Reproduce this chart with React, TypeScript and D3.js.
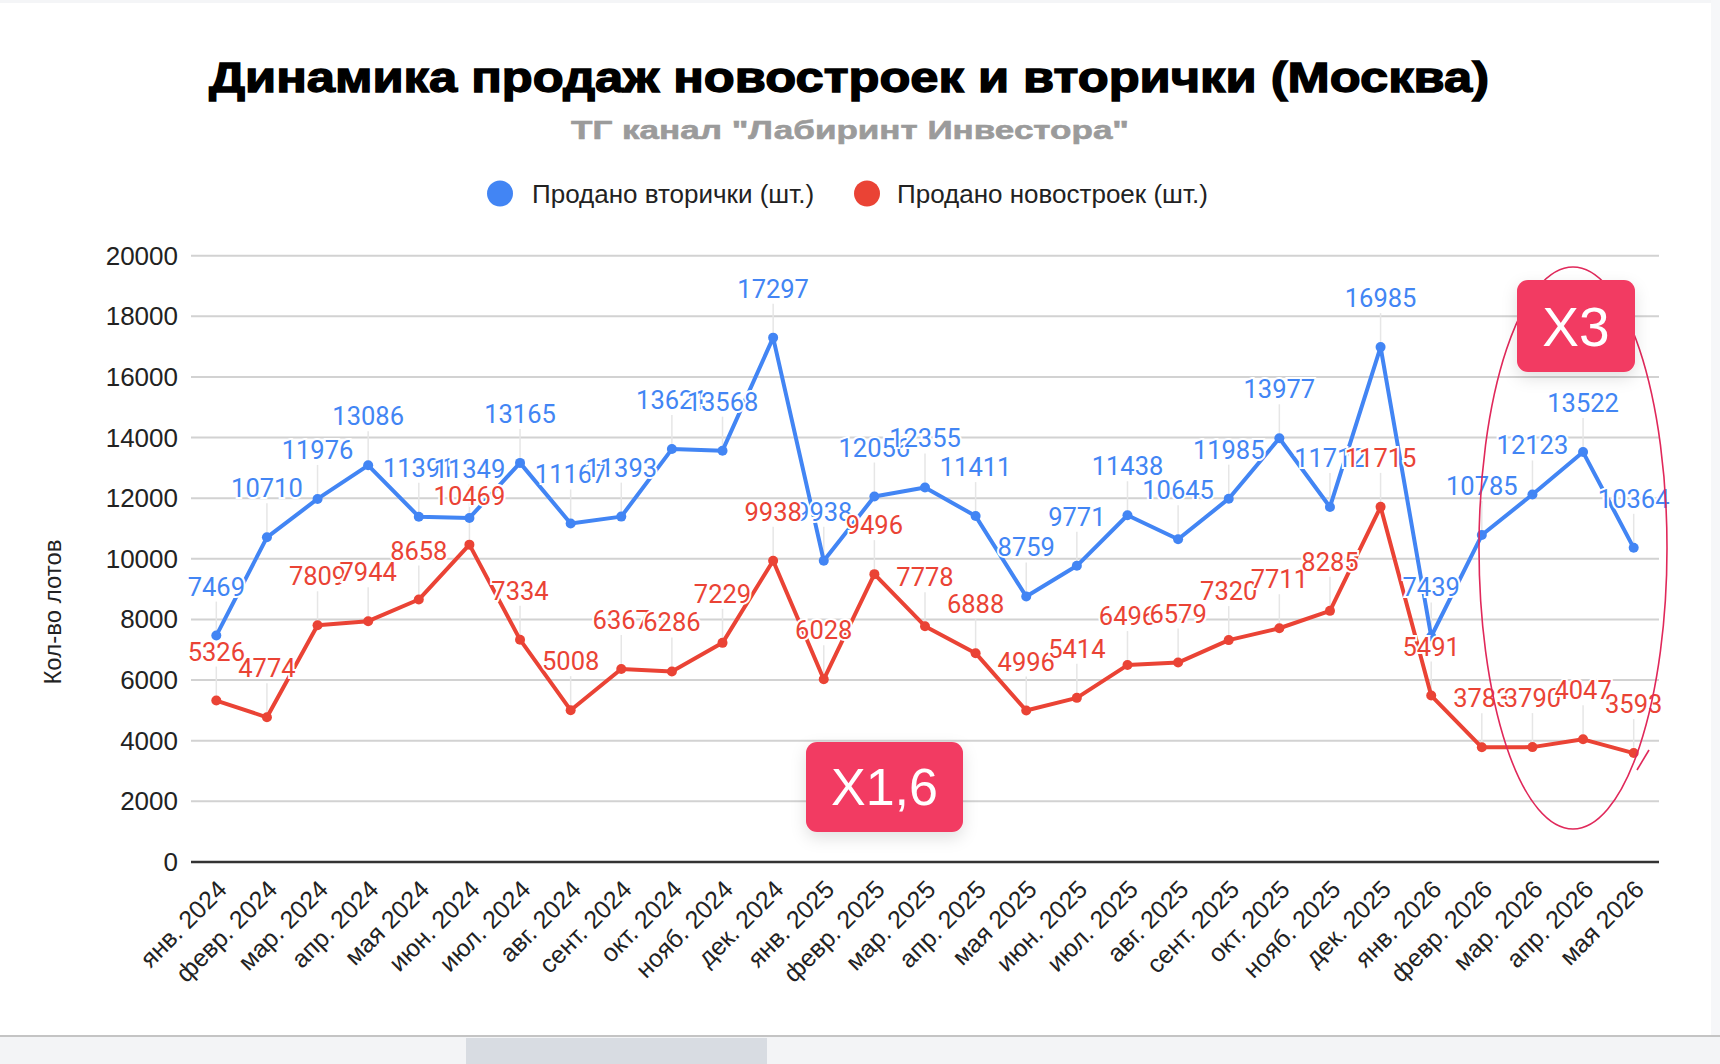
import * as d3 from "d3";

// месяцы (подписи оси X)
const months = [
  "янв. 2024", "февр. 2024", "мар. 2024", "апр. 2024", "мая 2024", "июн. 2024",
  "июл. 2024", "авг. 2024", "сент. 2024", "окт. 2024", "нояб. 2024", "дек. 2024",
  "янв. 2025", "февр. 2025", "мар. 2025", "апр. 2025", "мая 2025", "июн. 2025",
  "июл. 2025", "авг. 2025", "сент. 2025", "окт. 2025", "нояб. 2025", "дек. 2025",
  "янв. 2026", "февр. 2026", "мар. 2026", "апр. 2026", "мая 2026",
];

// продано вторички (шт.)
const secondary = [
  7469, 10710, 11976, 13086, 11391, 11349, 13165, 11167, 11393, 13621, 13568, 17297,
  9938, 12056, 12355, 11411, 8759, 9771, 11438, 10645, 11985, 13977, 11712, 16985,
  7439, 10785, 12123, 13522, 10364,
];

// продано новостроек (шт.)
const newBuild = [
  5326, 4774, 7809, 7944, 8658, 10469, 7334, 5008, 6367, 6286, 7229, 9938,
  6028, 9496, 7778, 6888, 4996, 5414, 6496, 6579, 7320, 7711, 8285, 11715,
  5491, 3783, 3790, 4047, 3593,
];

const yTicks = [0, 2000, 4000, 6000, 8000, 10000, 12000, 14000, 16000, 18000, 20000];

const BLUE = "#4285F4";
const RED = "#EA4335";
const BADGE = "#F23B62";
const SANS = "'Liberation Sans', Arial, sans-serif";
const ROBOTO = "Roboto, 'Liberation Sans', sans-serif";

const W = 1720;
const H = 1064;

export default function App() {
  const x = d3.scaleBand<string>().domain(months).range([191, 1659]);
  const xc = (i: number) => (x(months[i]) as number) + x.bandwidth() / 2;
  const y = d3.scaleLinear().domain([0, 20000]).range([862, 255.7]);

  const line = d3
    .line<number>()
    .x((_, i) => xc(i))
    .y((d) => y(d));

  const series = [
    { values: secondary, color: BLUE },
    { values: newBuild, color: RED },
  ];

  return (
    <svg
      width={W}
      height={H}
      style={{ position: "absolute", left: 0, top: 0, background: "#fff" }}
    >
      <defs>
        <filter id="shadow" x="-30%" y="-30%" width="160%" height="180%">
          <feDropShadow dx="0" dy="6" stdDeviation="8" floodColor="#000" floodOpacity="0.12" />
        </filter>
      </defs>

      {/* рамка страницы */}
      <rect x={0} y={0} width={W} height={3} fill="#f4f5f7" />
      <rect x={1711} y={0} width={W - 1711} height={H} fill="#f6f7f9" />
      <rect x={0} y={1036} width={W} height={H - 1036} fill="#f3f4f6" />
      <line x1={0} x2={W} y1={1036} y2={1036} stroke="#c4c4c4" strokeWidth={2} />
      <rect x={466} y={1038} width={301} height={H - 1038} fill="#d8dce2" />

      {/* заголовки */}
      <text
        x={849}
        y={92}
        textAnchor="middle"
        fontFamily={SANS}
        fontWeight="bold"
        fontSize={42}
        stroke="#000"
        strokeWidth={1.3}
        textLength={1280}
        lengthAdjust="spacingAndGlyphs"
      >
        Динамика продаж новостроек и вторички (Москва)
      </text>
      <text
        x={850}
        y={139}
        textAnchor="middle"
        fontFamily={SANS}
        fontWeight="bold"
        fontSize={26}
        fill="#9b9b9b"
        stroke="#9b9b9b"
        strokeWidth={0.6}
        textLength={558}
        lengthAdjust="spacingAndGlyphs"
      >
        ТГ канал "Лабиринт Инвестора"
      </text>

      {/* легенда */}
      <circle cx={500} cy={193.5} r={13} fill={BLUE} />
      <text x={532} y={203} fontFamily={SANS} fontSize={26} fill="#222">
        Продано вторички (шт.)
      </text>
      <circle cx={867} cy={193.5} r={13} fill={RED} />
      <text x={897} y={203} fontFamily={SANS} fontSize={26} fill="#222">
        Продано новостроек (шт.)
      </text>

      {/* сетка и ось Y */}
      {yTicks.map((t) => (
        <g key={t}>
          {t > 0 && (
            <line x1={191} x2={1659} y1={y(t)} y2={y(t)} stroke="#d2d2d2" strokeWidth={2} />
          )}
          <text
            x={178}
            y={y(t) + 9}
            textAnchor="end"
            fontFamily={SANS}
            fontSize={26}
            fill="#222"
          >
            {t}
          </text>
        </g>
      ))}
      <text
        transform={`translate(61,612) rotate(-90)`}
        textAnchor="middle"
        fontFamily={SANS}
        fontSize={24}
        fill="#222"
      >
        Кол-во лотов
      </text>

      {/* выноски подписей */}
      {series.map((s, si) =>
        s.values.map((v, i) => (
          <line
            key={`l${si}-${i}`}
            x1={xc(i)}
            x2={xc(i)}
            y1={y(v) - 34}
            y2={y(v)}
            stroke="#e6e6e6"
            strokeWidth={1.5}
          />
        ))
      )}

      <line x1={191} x2={1659} y1={y(0)} y2={y(0)} stroke="#333" strokeWidth={2.5} />

      {/* линии */}
      {series.map((s, si) => (
        <g key={`s${si}`}>
          <path
            d={line(s.values) ?? ""}
            fill="none"
            stroke={s.color}
            strokeWidth={4}
            strokeLinejoin="round"
          />
          {s.values.map((v, i) => (
            <circle key={i} cx={xc(i)} cy={y(v)} r={5} fill={s.color} />
          ))}
        </g>
      ))}

      {/* подписи значений */}
      {series.map((s, si) =>
        s.values.map((v, i) => (
          <text
            key={`t${si}-${i}`}
            x={xc(i)}
            y={y(v) - 40}
            textAnchor="middle"
            fontFamily={ROBOTO}
            fontSize={25.5}
            fill={s.color}
            stroke="#fff"
            strokeWidth={4}
            paintOrder="stroke"
          >
            {v}
          </text>
        ))
      )}

      {/* ось X */}
      {months.map((m, i) => (
        <text
          key={m}
          transform={`translate(${xc(i) + 12},${891}) rotate(-45)`}
          textAnchor="end"
          fontFamily={SANS}
          fontSize={25}
          fill="#222"
        >
          {m}
        </text>
      ))}

      {/* пометки */}
      <ellipse cx={1573} cy={548} rx={94} ry={281} fill="none" stroke="#E0285A" strokeWidth={1.6} />
      <line x1={1649} y1={750} x2={1637} y2={770} stroke="#E0285A" strokeWidth={1.6} />

      <g filter="url(#shadow)">
        <rect x={1517} y={280} width={118} height={92} rx={11} fill={BADGE} />
        <rect x={806} y={742} width={157} height={90} rx={11} fill={BADGE} />
      </g>
      <text x={1576} y={346} textAnchor="middle" fontFamily={SANS} fontSize={55} fill="#fff">
        X3
      </text>
      <text x={884.5} y={805} textAnchor="middle" fontFamily={SANS} fontSize={52} fill="#fff">
        X1,6
      </text>
    </svg>
  );
}
